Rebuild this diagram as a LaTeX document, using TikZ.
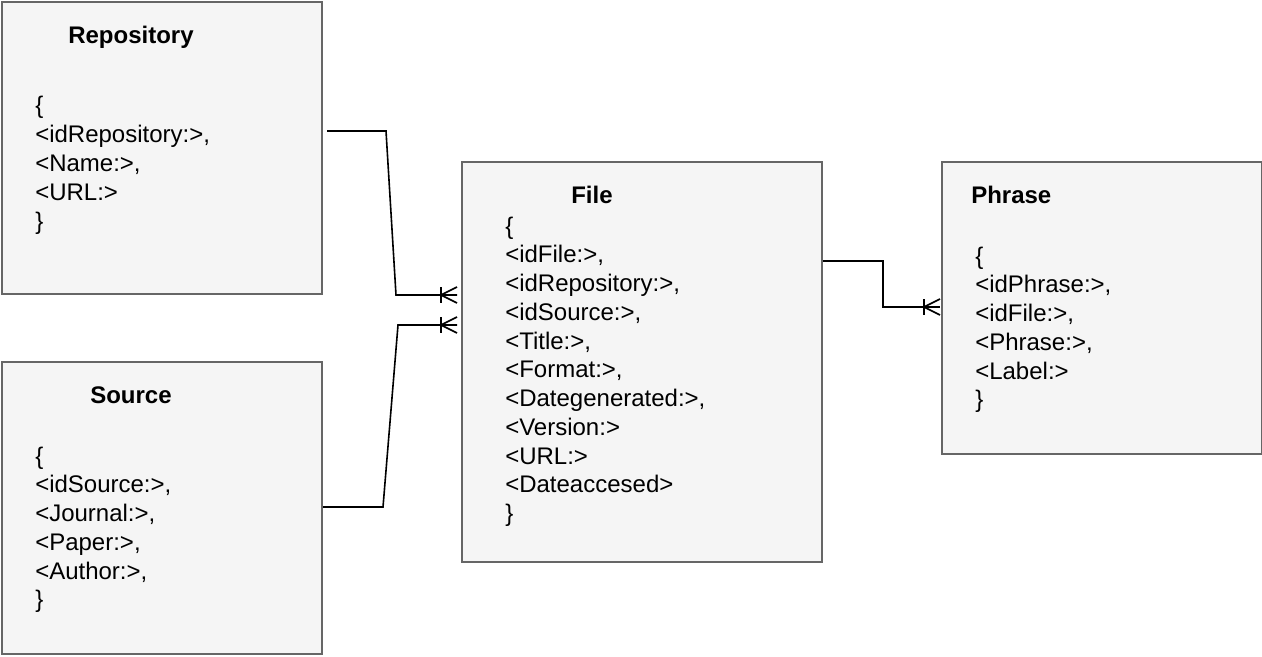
\documentclass[tikz,border=0pt]{standalone}
\usepackage{fontspec}
\setmainfont{Liberation Sans}
\usetikzlibrary{calc}
\definecolor{boxfill}{HTML}{F5F5F5}
\definecolor{boxline}{HTML}{666666}
\begin{document}
\begin{tikzpicture}[x=0.75pt,y=-0.75pt,
  entity/.style={draw=boxline,fill=boxfill,line width=1.5pt,anchor=north west,
    inner sep=0pt,minimum width=240pt,minimum height=219pt},
  title/.style={anchor=base west,inner sep=0pt,font=\fontsize{18}{21.5625}\selectfont\bfseries},
  fields/.style={anchor=base west,inner sep=0pt,font=\fontsize{18}{21.5625}\selectfont},
  conn/.style={draw=black,line width=1.2pt,line join=miter},
  crow/.pic={
    \draw[conn] (-16,-8) -- (-16,8);
    \draw[conn] (0,-8) -- (-16,0) -- (0,8);
  }]
\useasboundingbox (0,0) rectangle (1262,656);

% entity boxes
\node[entity] (repo) at (1,1) {};
\node[entity] (source) at (1,361) {};
\node[entity,minimum width=270pt,minimum height=300pt] (file) at (461,161) {};
\node[entity] (phrase) at (941,161) {};

% titles
\node[title] (repoT) at (68,44) {Repository};
\node[title] (sourceT) at (90,403) {Source};
\node[title] (fileT) at (571,203) {File};
\node[title] (phraseT) at (971,203) {Phrase};

% attribute lists
\node[fields] (repoF) at (35,114) {\begin{tabular}[t]{@{}l@{}}
\{\\ <idRepository:>,\\ <Name:>,\\ <URL:>\\ \}
\end{tabular}};
\node[fields] (sourceF) at (35,464) {\begin{tabular}[t]{@{}l@{}}
\{\\ <idSource:>,\\ <Journal:>,\\ <Paper:>,\\ <Author:>,\\ \}
\end{tabular}};
\node[fields] (fileF) at (505,234) {\begin{tabular}[t]{@{}l@{}}
\{\\ <idFile:>,\\ <idRepository:>,\\ <idSource:>,\\ <Title:>,\\ <Format:>,\\
<Dategenerated:>,\\ <Version:>\\ <URL:>\\ <Dateaccesed>\\ \}
\end{tabular}};
\node[fields] (phraseF) at (975,264) {\begin{tabular}[t]{@{}l@{}}
\{\\ <idPhrase:>,\\ <idFile:>,\\ <Phrase:>,\\ <Label:>\\ \}
\end{tabular}};

% connector end points on the box sides
\coordinate (repoOut) at ($(repo.north east)+(4,130)$);
\coordinate (fileInR) at ($(file.north west)+(-4,134)$);
\coordinate (sourceOut) at ($(source.north east)+(0,146)$);
\coordinate (fileInS) at ($(file.north west)+(-4,164)$);
\coordinate (fileOut) at ($(file.north east)+(0,100)$);
\coordinate (phraseIn) at ($(phrase.north west)+(-1,146)$);

% relationships (one-to-many, mandatory)
\draw[conn] (repoOut) -- ++(59,0) -- ($(fileInR)+(-61,0)$) -- (fileInR);
\pic at (fileInR) {crow};
\draw[conn] (sourceOut) -- ++(60,0) -- ($(fileInS)+(-59,0)$) -- (fileInS);
\pic at (fileInS) {crow};
\draw[conn] (fileOut) -- ++(60,0) |- (phraseIn);
\pic at (phraseIn) {crow};
\end{tikzpicture}
\end{document}
